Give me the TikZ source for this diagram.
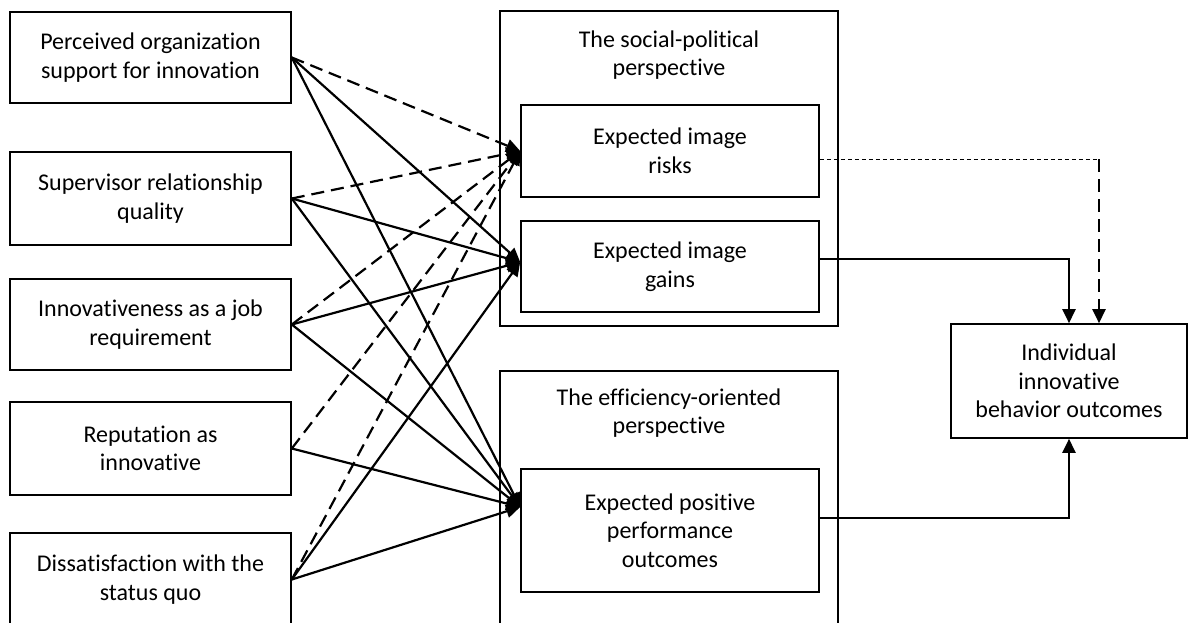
\documentclass[tikz,border=0pt]{standalone}
\usepackage{fontspec}
\setmainfont{Carlito}[Ligatures=NoCommon]
\usetikzlibrary{arrows.meta}
\begin{document}
\begin{tikzpicture}[x=1pt,y=-1pt,
  box/.style={draw,line width=1.6pt,align=center,inner sep=0pt,
    font=\fontsize{24}{28.5}\selectfont},
  lbox/.style={box,minimum width=281pt,minimum height=91pt},
  ibox/.style={box,minimum width=298pt},
  gbox/.style={draw,line width=1.6pt,minimum width=338pt,inner sep=0pt},
  ttl/.style={align=center,inner sep=0pt,font=\fontsize{24}{28.5}\selectfont},
  tip/.style={-{Triangle[length=14pt,width=13pt]}},
  sline/.style={tip,line width=2.2pt},
  dline/.style={tip,line width=2.2pt,dash pattern=on 13pt off 7pt},
  dotline/.style={line width=1pt,dash pattern=on 4pt off 3pt}]
\useasboundingbox (0,0) rectangle (1190,623);
% left boxes
\node[lbox] (b1) at (150.5,57.5) {Perceived organization\\support for innovation};
\node[lbox,minimum height=93pt] (b2) at (150.5,198.5) {Supervisor relationship\\quality};
\node[lbox] (b3) at (150.5,324.5) {Innovativeness as a job\\requirement};
\node[lbox,minimum height=93pt] (b4) at (150.5,448.5) {Reputation as\\innovative};
\node[lbox,minimum height=93pt] (b5) at (150.5,579.5) {Dissatisfaction with the\\status quo};
% group boxes
\node[gbox,minimum height=315pt] (g1) at (669,168.5) {};
\node[ttl] (g1t) at (669,55) {The social-political\\perspective};
\node[ibox,minimum height=92pt] (risks) at (670,151) {Expected image\\risks};
\node[ibox,minimum height=91pt] (gains) at (670,266.5) {Expected image\\gains};
\node[gbox,minimum height=269pt] (g2) at (669,505.5) {};
\node[ttl] (g2t) at (669,413) {The efficiency-oriented\\perspective};
\node[ibox,minimum height=123pt] (perf) at (670,530.5) {Expected positive\\performance\\outcomes};
% outcome box
\node[box,minimum width=236pt,minimum height=114pt] (ind) at (1069,381) {Individual\\innovative\\behavior outcomes};
% targets
\coordinate (tR) at (risks.west);
\coordinate (tG) at ([yshift=4.5pt]gains.west);
\coordinate (tP) at ([yshift=23.5pt]perf.west);
% connectors from left boxes
\draw[dline] (b1.east) -- (tR);
\draw[sline] (b1.east) -- (tG);
\draw[sline] (b1.east) -- (tP);
\draw[dline] (b2.east) -- (tR);
\draw[sline] (b2.east) -- (tG);
\draw[sline] (b2.east) -- (tP);
\draw[dline] (b3.east) -- (tR);
\draw[sline] (b3.east) -- (tG);
\draw[sline] (b3.east) -- (tP);
\draw[dline] (b4.east) -- (tR);
\draw[sline] (b4.east) -- (tP);
\draw[dline] (b5.east) -- (tR);
\draw[sline] (b5.east) -- (tG);
\draw[sline] (b5.east) -- (tP);
% connectors to outcome box
\coordinate (rc) at (1099,159);
\draw[dotline] ([yshift=-8pt]risks.east) -- (rc);
\draw[dline] (rc) -- (rc |- ind.north);
\draw[sline] ([yshift=7.5pt]gains.east) -| (ind.north);
\draw[sline] ([yshift=12.5pt]perf.east) -| (ind.south);
\end{tikzpicture}
\end{document}
